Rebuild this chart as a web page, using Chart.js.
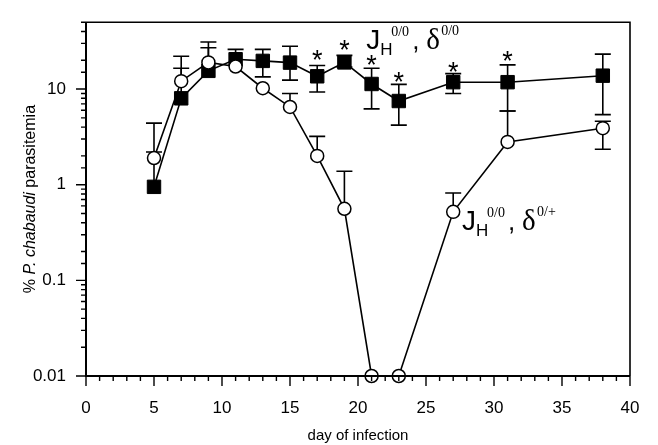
<!DOCTYPE html>
<html>
<head>
<meta charset="utf-8">
<script src="https://cdn.jsdelivr.net/npm/chart.js@4.4.0/dist/chart.umd.min.js"></script>
<style>
html, body { margin: 0; padding: 0; background: #fff; }
#wrap { width: 658px; height: 445px; }
</style>
</head>
<body>
<div id="wrap"><canvas id="chart" width="658" height="445"></canvas></div>
<script>
// day of infection
const days = [5, 7, 9, 11, 13, 15, 17, 19, 21, 23, 27, 31, 38];

// JH 0/0, delta 0/0 (filled squares)
const koVals = [0.95, 8, 15.5, 20.5, 19.7, 18.9, 13.6, 19, 11.3, 7.5, 11.8, 11.8, 13.8];
const koUp   = [2.2, 16.5, 27, 26, 26, 28, 17.6, 22.5, 16.5, 11.2, 14.5, 17.9, 23.2];
const koLow  = [null, null, null, null, 13.4, 12.4, 9.3, 17, 6.2, 4.2, 9.0, 5.9, 5.4];

// JH 0/0, delta 0/+ (open circles)
const hetVals = [1.9, 12.1, 19, 17.2, 10.2, 6.5, 2.0, 0.56, 0.01, 0.01, 0.52, 2.8, 3.9];
const hetUp   = [4.4, 22, 31, null, null, 9.0, 3.2, 1.38, null, null, 0.82, 5.9, 4.6];
const hetLow  = [null, null, null, null, null, null, null, null, null, null, null, null, 2.35];

// significance marks
const starDays = [17, 19, 21, 23, 27, 31];
const starVals = [23.4, 29.6, 20.7, 13.6, 17.6, 22.8];

const yLabels = [0.01, 0.1, 1, 10];

const SANS = '"Liberation Sans", Arial, Helvetica, sans-serif';
const SERIF = '"Liberation Serif", "Times New Roman", serif';

const toPoints = (xs, ys) => xs.map((x, i) => ({ x: x, y: ys[i] }));

// error bars drawn under the markers
const errorBars = {
    id: 'errorBars',
    beforeDatasetsDraw(chart) {
        const ctx = chart.ctx;
        const yScale = chart.scales.y;
        ctx.save();
        ctx.strokeStyle = '#000';
        ctx.lineWidth = 1.6;
        chart.data.datasets.forEach((ds, i) => {
            const meta = chart.getDatasetMeta(i);
            meta.data.forEach((pt, j) => {
                [ds.errUp[j], ds.errLow[j]].forEach(v => {
                    if (v == null) return;
                    const y = yScale.getPixelForValue(v);
                    ctx.beginPath();
                    ctx.moveTo(pt.x, pt.y);
                    ctx.lineTo(pt.x, y);
                    ctx.moveTo(pt.x - 8, y);
                    ctx.lineTo(pt.x + 8, y);
                    ctx.stroke();
                });
            });
        });
        ctx.restore();
    }
};

function drawGenotype(ctx, x, y, sup) {
    ctx.fillStyle = '#000';
    ctx.textAlign = 'left';
    ctx.textBaseline = 'alphabetic';
    ctx.font = '28px ' + SANS;
    ctx.fillText('J', x, y);
    ctx.font = '17px ' + SANS;
    ctx.fillText('H', x + 14, y + 6);
    ctx.font = '14px ' + SERIF;
    ctx.fillText('0/0', x + 25, y - 13);
    ctx.font = '26px ' + SANS;
    ctx.fillText(',', x + 46, y);
    ctx.font = '29px ' + SERIF;
    ctx.fillText('\u03B4', x + 60, y);
    ctx.font = '14px ' + SERIF;
    ctx.fillText(sup, x + 75, y - 14);
}

// box, tick marks, titles, stars and labels
const decorations = {
    id: 'decorations',
    afterDraw(chart) {
        const ctx = chart.ctx;
        const xs = chart.scales.x, ys = chart.scales.y;
        const a = chart.chartArea;
        ctx.save();
        ctx.strokeStyle = '#000';

        // frame
        ctx.lineWidth = 2;
        ctx.beginPath();
        ctx.moveTo(a.left, a.top);
        ctx.lineTo(a.left, a.bottom);
        ctx.lineTo(a.right, a.bottom);
        ctx.stroke();
        ctx.lineWidth = 1.6;
        ctx.beginPath();
        ctx.moveTo(a.left, a.top);
        ctx.lineTo(a.right, a.top);
        ctx.lineTo(a.right, a.bottom);
        ctx.stroke();

        // tick marks
        ctx.lineWidth = 1.4;
        ctx.beginPath();
        xs.ticks.forEach(t => {
            const px = xs.getPixelForValue(t.value);
            const len = t.value % 5 === 0 ? 10 : 5;
            ctx.moveTo(px, a.bottom);
            ctx.lineTo(px, a.bottom + len);
        });
        ys.ticks.forEach(t => {
            const py = ys.getPixelForValue(t.value);
            const major = yLabels.some(v => Math.abs(v - t.value) < v * 1e-6);
            ctx.moveTo(a.left, py);
            ctx.lineTo(a.left - (major ? 10 : 5), py);
        });
        ctx.stroke();

        // asterisks
        ctx.fillStyle = '#000';
        ctx.font = '27px ' + SANS;
        ctx.textAlign = 'center';
        ctx.textBaseline = 'alphabetic';
        starDays.forEach((d, i) => {
            ctx.fillText('*', xs.getPixelForValue(d), ys.getPixelForValue(starVals[i]) + 15);
        });

        // genotype labels
        drawGenotype(ctx, xs.getPixelForValue(20.6), ys.getPixelForValue(26), '0/0');
        drawGenotype(ctx, xs.getPixelForValue(27.65), ys.getPixelForValue(0.336), '0/+');

        // x title
        ctx.font = '15px ' + SANS;
        ctx.textAlign = 'center';
        ctx.textBaseline = 'middle';
        ctx.fillText('day of infection', (a.left + a.right) / 2, 436);

        // y title with italic species name
        const parts = [
            ['% ', 'normal'],
            ['P. chabaudi', 'italic'],
            [' parasitemia', 'normal']
        ];
        let total = 0;
        parts.forEach(p => {
            ctx.font = p[1] + ' 16px ' + SANS;
            total += ctx.measureText(p[0]).width;
        });
        ctx.translate(31, (a.top + a.bottom) / 2);
        ctx.rotate(-Math.PI / 2);
        ctx.textAlign = 'left';
        let pos = -total / 2;
        parts.forEach(p => {
            ctx.font = p[1] + ' 16px ' + SANS;
            ctx.fillText(p[0], pos, 0);
            pos += ctx.measureText(p[0]).width;
        });
        ctx.restore();
    }
};

const ctx = document.getElementById('chart').getContext('2d');
new Chart(ctx, {
    type: 'scatter',
    data: {
        datasets: [
            {
                label: 'JH 0/0, delta 0/+',
                data: toPoints(days, hetVals),
                errUp: hetUp,
                errLow: hetLow,
                showLine: true,
                borderColor: '#000',
                borderWidth: 1.6,
                pointStyle: 'circle',
                pointRadius: 6.5,
                pointBorderWidth: 1.5,
                pointBackgroundColor: '#fff',
                pointBorderColor: '#000',
                clip: false
            },
            {
                label: 'JH 0/0, delta 0/0',
                data: toPoints(days, koVals),
                errUp: koUp,
                errLow: koLow,
                showLine: true,
                borderColor: '#000',
                borderWidth: 1.6,
                pointStyle: 'rect',
                pointRadius: 9.5,
                pointBorderWidth: 1,
                pointBackgroundColor: '#000',
                pointBorderColor: '#000',
                clip: false
            }
        ]
    },
    options: {
        responsive: false,
        animation: false,
        layout: { padding: { left: 0, right: 28, top: 15, bottom: 0 } },
        plugins: {
            legend: { display: false },
            tooltip: { enabled: false }
        },
        scales: {
            x: {
                type: 'linear',
                min: 0,
                max: 40,
                grid: { display: false },
                border: { display: false },
                ticks: {
                    stepSize: 1,
                    autoSkip: false,
                    maxRotation: 0,
                    padding: 14,
                    color: '#000',
                    font: { size: 17, family: SANS },
                    callback: v => (v % 5 === 0 ? String(v) : '')
                },
                afterFit: s => { s.height = 69; }
            },
            y: {
                type: 'logarithmic',
                min: 0.01,
                max: 50,
                grid: { display: false },
                border: { display: false },
                ticks: {
                    autoSkip: false,
                    padding: 12,
                    color: '#000',
                    font: { size: 17, family: SANS },
                    callback: v => {
                        const hit = yLabels.find(l => Math.abs(l - v) < l * 1e-6);
                        return hit !== undefined ? String(hit) : '';
                    }
                },
                afterFit: s => { s.width = 86; }
            }
        }
    },
    plugins: [errorBars, decorations]
});
</script>
</body>
</html>
